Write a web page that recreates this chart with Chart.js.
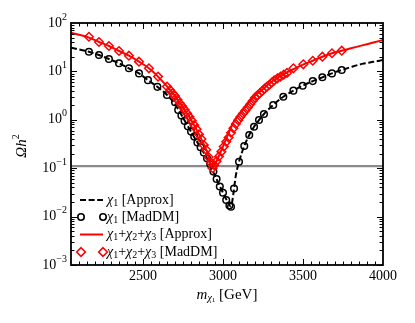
<!DOCTYPE html>
<html><head><meta charset="utf-8">
<script src="https://cdn.jsdelivr.net/npm/chart.js@4.4.0/dist/chart.umd.min.js"></script>
<style>html,body{margin:0;padding:0;background:#fff;} canvas{display:block;}</style>
</head><body>
<canvas id="c" width="415" height="323"></canvas>
<script>
// chi1 [Approx] curve
const chi1ApproxMass = [2050,2100,2162,2225,2287,2350,2412,2475,2531,2590,2650,2700,2750,2800,2850,2900,2950,3000,3030,3050,3065,3080,3100,3133,3164,3194,3225,3256,3314,3377,3440,3498,3561,3621,3681,3742,3800,3870,3940,4000];
const chi1ApproxVal  = [31,28.5,25.5,21.8,18.0,14.7,11.6,9.1,6.6,4.8,3.25,2.1,1.1,0.57,0.3,0.16,0.07,0.031,0.02,0.016,0.03,0.07,0.135,0.288,0.485,0.72,0.99,1.32,2.02,3.0,4.0,5.07,6.3,7.55,9.1,10.7,12.3,14.3,15.8,17.2];
// chi1 [MadDM] points
const chi1MadMass = [2162,2225,2287,2350,2412,2475,2531,2590,2650,2700,2720,2740,2760,2780,2800,2820,2840,2860,2880,2900,2920,2940,2960,2980,3000,3020,3040,3050,3069,3100,3133,3164,3194,3225,3256,3314,3377,3440,3498,3561,3621,3681,3742];
const chi1MadVal  = [25.5,21.8,18.0,14.7,11.6,9.1,6.6,4.8,3.25,2.3,1.6,1.22,0.95,0.74,0.57,0.45,0.34,0.27,0.21,0.16,0.12,0.085,0.06,0.042,0.031,0.022,0.017,0.016,0.038,0.136,0.288,0.485,0.72,0.99,1.32,2.02,3.0,4.0,5.07,6.3,7.55,9.1,10.7];
// chi1+chi2+chi3 [Approx] curve
const chi123ApproxMass = [2050,2100,2162,2225,2287,2350,2412,2475,2537,2594,2650,2700,2750,2800,2850,2900,2935,2950,2981,3012,3044,3075,3106,3148,3189,3242,3304,3367,3429,3500,3561,3621,3681,3742,3800,3870,3940,4000];
const chi123ApproxVal  = [63,57,50,40.5,33.5,26.4,21.1,15.9,11.6,7.8,4.9,3.1,1.8,1.0,0.5,0.22,0.1,0.12,0.2,0.35,0.62,1.0,1.36,2.02,2.9,4.1,6.1,8.4,10.7,13.8,16.6,20.1,23.7,26.8,30,34.5,39.5,44.5];
// chi1+chi2+chi3 [MadDM] points
const chi123MadMass = [2162,2225,2287,2350,2412,2475,2537,2594,2650,2670,2685,2700,2715,2730,2745,2760,2775,2790,2805,2820,2835,2850,2865,2880,2895,2910,2925,2935,2945,2960,2975,2990,3005,3020,3035,3050,3065,3080,3095,3110,3125,3140,3155,3170,3185,3200,3215,3230,3245,3260,3275,3290,3305,3320,3340,3360,3380,3400,3440,3502,3561,3621,3681,3742];
const chi123MadVal  = [52,40.5,33.5,26.4,21.1,15.9,11.6,7.8,4.85,4.1,3.55,3.1,2.6,2.2,1.9,1.62,1.36,1.15,0.96,0.78,0.64,0.5,0.4,0.3,0.24,0.17,0.13,0.1,0.115,0.14,0.175,0.22,0.28,0.35,0.43,0.54,0.67,0.82,0.98,1.16,1.35,1.55,1.8,2.1,2.45,2.85,3.2,3.55,3.95,4.4,4.85,5.3,5.9,6.5,7.2,7.8,8.6,9.3,11.6,14.0,16.6,20.1,23.7,26.8];
// observed relic density line
const relicMass = [2050,4000];
const relicVal = [0.11,0.11];
// axes
const xMin = 2050, xMax = 4000;
const xTickLabels = [2500,3000,3500,4000];
const yTickExps = [-3,-2,-1,0,1,2];

const pts = (xs, ys) => xs.map((v,i)=>({x:v,y:ys[i]}));
const SERIF = '"Liberation Serif", "DejaVu Serif", serif';

function drawRich(ctx, segs, x, y, align){
  let total = 0;
  segs.forEach(s=>{ctx.font=(s[2]?'italic ':'')+s[1]+'px '+SERIF; total+=ctx.measureText(s[0]).width;});
  let cx = align==='center'? x-total/2 : align==='right'? x-total : x;
  segs.forEach(s=>{ctx.font=(s[2]?'italic ':'')+s[1]+'px '+SERIF; ctx.fillText(s[0],cx,y+(s[3]||0)); cx+=ctx.measureText(s[0]).width;});
}

const decor = {
  id:'decor',
  afterDraw(chart){
    const {ctx, chartArea:a, scales:{x,y}} = chart;
    ctx.save();
    ctx.strokeStyle='#000'; ctx.fillStyle='#000';
    ctx.lineWidth=1;
    ctx.beginPath();
    for(let m=2100;m<xMax;m+=50){
      const px=Math.round(x.getPixelForValue(m))+0.5;
      const len = (m%500===0)?6:3.5;
      ctx.moveTo(px,a.bottom); ctx.lineTo(px,a.bottom-len);
      ctx.moveTo(px,a.top); ctx.lineTo(px,a.top+len);
    }
    for(let e=-3;e<2;e++){
      for(let k=1;k<10;k++){
        const v=k*Math.pow(10,e);
        const py=Math.round(y.getPixelForValue(v))+0.5;
        const len=(k===1)?6:3.5;
        ctx.moveTo(a.left,py); ctx.lineTo(a.left+len,py);
        ctx.moveTo(a.right,py); ctx.lineTo(a.right-len,py);
      }
    }
    ctx.stroke();
    ctx.lineWidth=1.8;
    ctx.strokeRect(a.left,a.top,a.right-a.left,a.bottom-a.top);
    ctx.textBaseline='middle';
    ctx.textAlign='left';
    xTickLabels.forEach(t=>{
      drawRich(ctx,[[String(t),14,false,0]],x.getPixelForValue(t),a.bottom+11,'center');
    });
    yTickExps.forEach(e=>{
      const py=y.getPixelForValue(Math.pow(10,e));
      const es = e<0?'\u2212'+Math.abs(e):String(e);
      drawRich(ctx,[['10',14,false,0],[es,10,false,-6]],a.left-4,py,'right');
    });
    drawRich(ctx,[['m',15,true,0],['\u03c7',10,true,3],['1',7,false,5],[' [GeV]',15,false,0]],(a.left+a.right)/2,a.bottom+30,'center');
    ctx.save();
    ctx.translate(22,(a.top+a.bottom)/2+2);
    ctx.rotate(-Math.PI/2);
    drawRich(ctx,[['\u03a9',15,true,0],['h',15,true,0],['2',10,false,-6]],0,0,'center');
    ctx.restore();
    // legend
    const lx1=80, lx2=103, tx=107;
    const rows=[200,217,234.5,252];
    ctx.lineWidth=2;
    ctx.strokeStyle='#000'; ctx.setLineDash([6,2.6]);
    ctx.beginPath(); ctx.moveTo(lx1,rows[0]); ctx.lineTo(lx2,rows[0]); ctx.stroke();
    ctx.setLineDash([]);
    ctx.lineWidth=1.6;
    [lx1+1,lx2].forEach(px=>{ctx.beginPath();ctx.arc(px,rows[1],3.2,0,Math.PI*2);ctx.stroke();});
    ctx.strokeStyle='#ff0000'; ctx.lineWidth=2;
    ctx.beginPath(); ctx.moveTo(lx1,rows[2]); ctx.lineTo(lx2,rows[2]); ctx.stroke();
    ctx.lineWidth=1.6;
    [lx1+1,lx2].forEach(px=>{const r=4.3;ctx.beginPath();ctx.moveTo(px,rows[3]-r);ctx.lineTo(px+r,rows[3]);ctx.lineTo(px,rows[3]+r);ctx.lineTo(px-r,rows[3]);ctx.closePath();ctx.stroke();});
    ctx.fillStyle='#000';
    const chi=(n)=>[['\u03c7',14,true,0],[String(n),10,false,3]];
    drawRich(ctx,[...chi(1),[' [Approx]',14,false,0]],tx,rows[0],'left');
    drawRich(ctx,[...chi(1),[' [MadDM]',14,false,0]],tx,rows[1],'left');
    drawRich(ctx,[...chi(1),['+',14,false,0],...chi(2),['+',14,false,0],...chi(3),[' [Approx]',14,false,0]],tx,rows[2],'left');
    drawRich(ctx,[...chi(1),['+',14,false,0],...chi(2),['+',14,false,0],...chi(3),[' [MadDM]',14,false,0]],tx,rows[3],'left');
    ctx.restore();
  }
};

new Chart(document.getElementById('c'),{
  type:'line',
  data:{datasets:[
    {label:'relic',data:pts(relicMass,relicVal),borderColor:'#8a8a8a',borderWidth:2.2,pointRadius:0,order:10},
    {label:'chi1 Approx',data:pts(chi1ApproxMass,chi1ApproxVal),borderColor:'#000',borderWidth:2,borderDash:[6,2.6],pointRadius:0,cubicInterpolationMode:'monotone',order:4},
    {label:'chi1 MadDM',data:pts(chi1MadMass,chi1MadVal),showLine:false,pointStyle:'circle',pointRadius:3.3,pointBorderWidth:1.5,pointBorderColor:'#000',pointBackgroundColor:'rgba(0,0,0,0)',order:3},
    {label:'chi123 Approx',data:pts(chi123ApproxMass,chi123ApproxVal),borderColor:'#ff0000',borderWidth:2,pointRadius:0,cubicInterpolationMode:'monotone',order:2},
    {label:'chi123 MadDM',data:pts(chi123MadMass,chi123MadVal),showLine:false,pointStyle:'rectRot',pointRadius:4.3,pointBorderWidth:1.5,pointBorderColor:'#ff0000',pointBackgroundColor:'rgba(0,0,0,0)',order:1}
  ]},
  options:{
    responsive:false, devicePixelRatio:1, animation:false,
    layout:{padding:{left:71,right:32,top:23,bottom:58}},
    plugins:{legend:{display:false},tooltip:{enabled:false}},
    scales:{
      x:{type:'linear',min:xMin,max:xMax,display:false},
      y:{type:'logarithmic',min:1e-3,max:1e2,display:false}
    }
  },
  plugins:[decor]
});
</script>
</body></html>
